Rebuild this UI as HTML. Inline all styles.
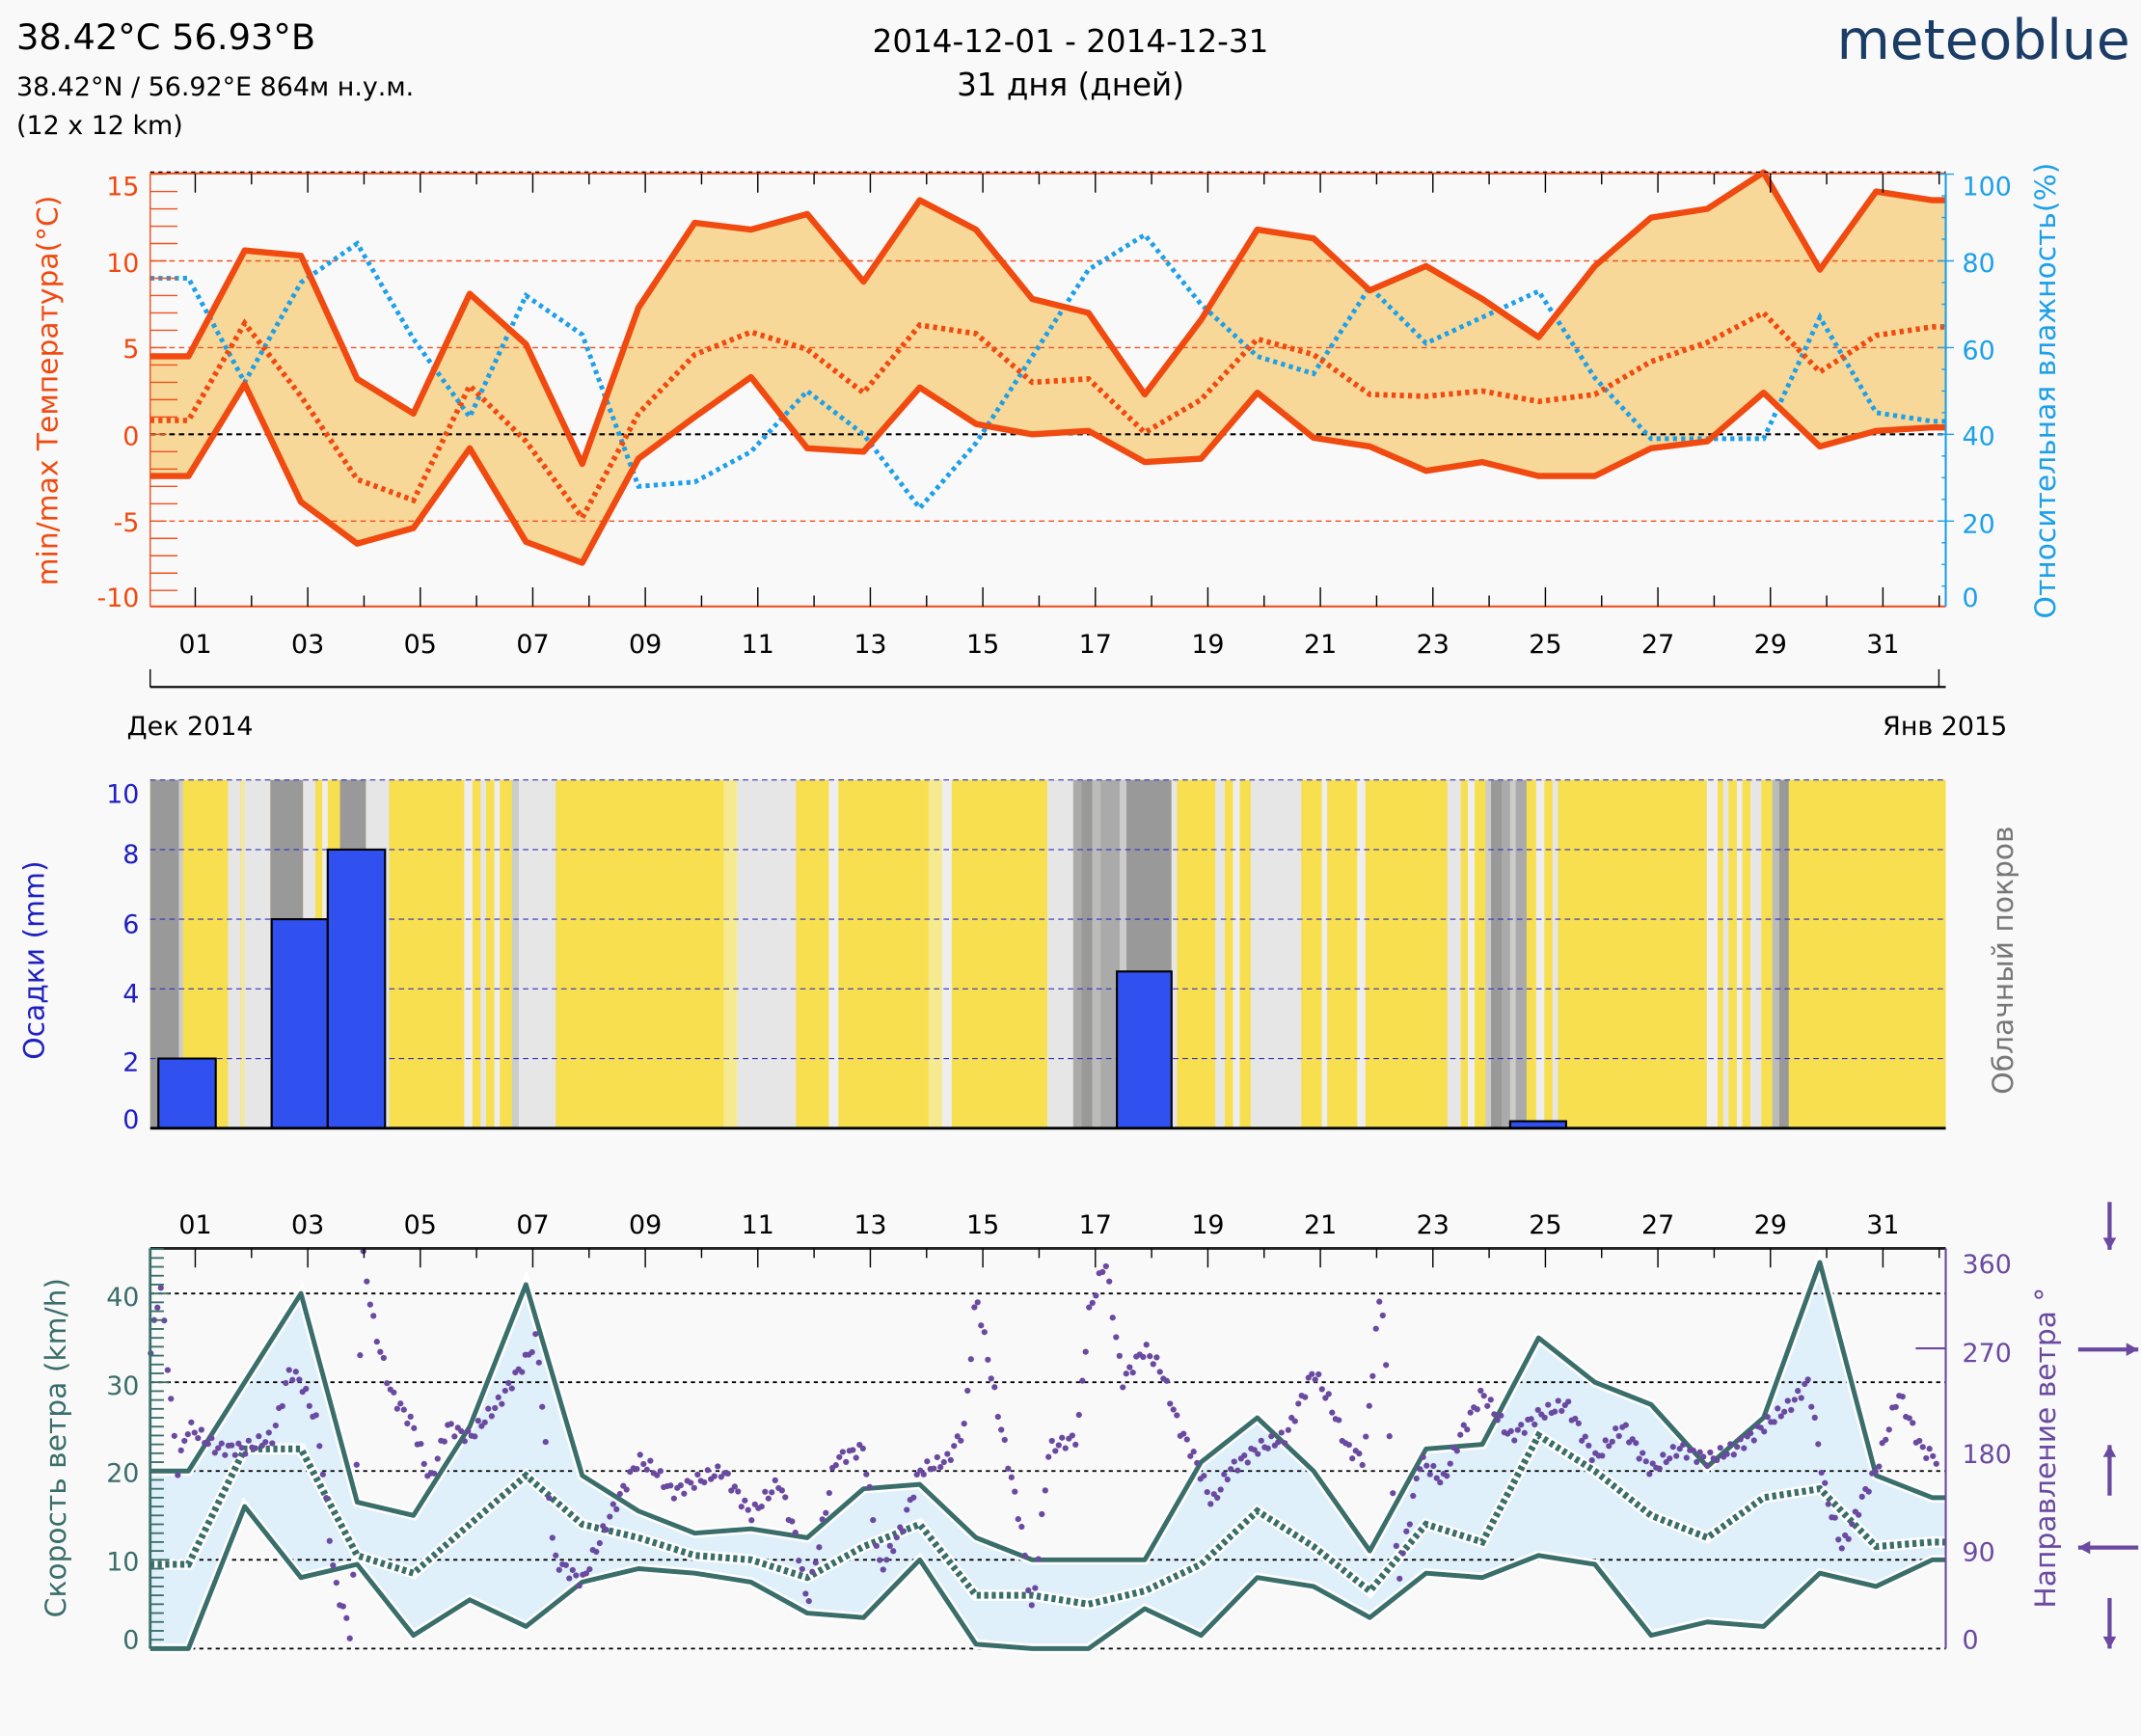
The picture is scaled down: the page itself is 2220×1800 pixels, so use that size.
<!DOCTYPE html>
<html><head><meta charset="utf-8">
<style>
html,body{margin:0;padding:0;background:#f9f9f9;}
svg{display:block;font-family:"DejaVu Sans","Liberation Sans",sans-serif;}
</style></head><body>
<svg id="s" width="2220" height="1800" viewBox="0 0 1568 1271" preserveAspectRatio="none" xmlns="http://www.w3.org/2000/svg">
<rect width="1568" height="1271" fill="#f9f9f9"/>
<text x="12" y="36" font-size="26" fill="#000">38.42°C 56.93°B</text>
<text x="12" y="70" font-size="19" fill="#000">38.42°N / 56.92°E   864м н.у.м.</text>
<text x="12" y="98" font-size="19" fill="#000">(12 x 12 km)</text>
<text x="784" y="38" font-size="23" text-anchor="middle">2014-12-01 - 2014-12-31</text>
<text x="784" y="70" font-size="23" text-anchor="middle">31 дня (дней)</text>
<text x="1560" y="43" font-size="40" fill="#1a3c66" text-anchor="end">meteoblue</text>
<g id="g"></g>
</svg>
<script>
var NS="http://www.w3.org/2000/svg",g=document.getElementById('g');
function el(t,a,txt){var e=document.createElementNS(NS,t);for(var k in a)e.setAttribute(k,a[k]);if(txt!==undefined)e.textContent=txt;g.appendChild(e);return e;}
function X(d){return 138+(d-1)*41.2;}
var L=110,R=1425;
var tmax=[4.5,10.6,10.3,3.2,1.2,8.1,5.2,-1.7,7.3,12.2,11.8,12.7,8.8,13.5,11.8,7.8,7.0,2.3,6.6,11.8,11.3,8.3,9.7,7.8,5.6,9.7,12.5,13.0,15.1,9.5,14.0,13.5];
var tmin=[-2.4,2.9,-3.9,-6.3,-5.4,-0.8,-6.2,-7.4,-1.4,1.0,3.3,-0.8,-1.0,2.7,0.6,0.0,0.2,-1.6,-1.4,2.4,-0.2,-0.7,-2.1,-1.6,-2.4,-2.4,-0.8,-0.4,2.4,-0.7,0.2,0.4];
var tmean=[0.8,6.4,2.2,-2.6,-3.8,2.8,-0.4,-4.8,1.2,4.6,5.9,4.9,2.4,6.3,5.8,3.0,3.2,0.1,2.0,5.5,4.6,2.3,2.2,2.5,1.9,2.3,4.2,5.3,7.0,3.6,5.7,6.2];
var hum=[76,52,75,84,62,44,72,63,28,29,36,50,40,23,38,58,78,86,70,58,54,74,61,67,73,53,39,39,39,67,45,43];
function TY(t){return 318-12.7*t;} function HY(h){return 445-3.175*h;}
function line(arr,fy){var p=[[L,fy(arr[0])]];for(var i=0;i<arr.length;i++)p.push([Math.min(X(i+1),R),fy(arr[i])]);p.push([R,fy(arr[arr.length-1])]);return p;}
function pstr(p){return p.map(function(q){return q[0].toFixed(1)+','+q[1].toFixed(1)}).join(' ');}
var pa=line(tmax,TY),pb=line(tmin,TY);
el('polygon',{points:pstr(pa.concat(pb.slice().reverse())),fill:'#f8d898'});
[10,5,-5].forEach(function(t){el('line',{x1:L,x2:R,y1:TY(t),y2:TY(t),stroke:'#f05020','stroke-width':1,'stroke-dasharray':'4,3'});});
el('line',{x1:L,x2:R,y1:318,y2:318,stroke:'#000','stroke-width':1.5,'stroke-dasharray':'4,3'});
el('polyline',{points:pstr(line(hum,HY)),fill:'none',stroke:'#1ea0e8','stroke-width':3.5,'stroke-dasharray':'3,3'});
el('polyline',{points:pstr(pa),fill:'none',stroke:'#f04a10','stroke-width':4.5,'stroke-linejoin':'round'});
el('polyline',{points:pstr(pb),fill:'none',stroke:'#f04a10','stroke-width':4.5,'stroke-linejoin':'round'});
el('polyline',{points:pstr(line(tmean,TY)),fill:'none',stroke:'#f04a10','stroke-width':4,'stroke-dasharray':'3,3'});
el('line',{x1:L,x2:R,y1:127,y2:127,stroke:'#f05020','stroke-width':1.5});
el('line',{x1:L,x2:R,y1:126,y2:126,stroke:'#000','stroke-width':1,'stroke-dasharray':'3,3'});
el('line',{x1:L,x2:R,y1:444,y2:444,stroke:'#f05020','stroke-width':1.5});
el('line',{x1:L,x2:L,y1:127,y2:444,stroke:'#f05020','stroke-width':1});
el('line',{x1:R,x2:R,y1:127,y2:444,stroke:'#1ea0e8','stroke-width':1.5});
for(var t=-10;t<=15;t++){var y=TY(t);if(y<127||y>444)continue;el('line',{x1:L,x2:L+(t%5==0?12:20),y1:y,y2:y,stroke:'#f05020','stroke-width':1});}
[[15,143],[10,199],[5,262],[0,326],[-5,389],[-10,444]].forEach(function(a){el('text',{x:102,y:a[1],'font-size':19,fill:'#f04a10','text-anchor':'end'},a[0]);});
[[100,143],[80,199],[60,263],[40,326],[20,390],[0,444]].forEach(function(a){el('text',{x:1437,y:a[1],'font-size':19,fill:'#1ea0e8'},a[0]);});
for(var h=0;h<=100;h+=5){var y=HY(h);if(y<127||y>444)continue;el('line',{x1:R-(h%20==0?6:3),x2:R+(h%20==0?6:0),y1:y,y2:y,stroke:'#1ea0e8','stroke-width':1});}
for(var d=1;d<=32;d++){var x=143+(d-1)*41.2;if(x>R)break;var l=d%2?14:8;el('line',{x1:x,x2:x,y1:127,y2:127+l,stroke:'#000'});el('line',{x1:x,x2:x,y1:444,y2:444-l,stroke:'#000'});if(d%2)el('text',{x:x,y:478,'font-size':19,'text-anchor':'middle'},(d<10?'0':'')+d);}
el('text',{x:0,y:0,'font-size':21,fill:'#f04a10','text-anchor':'middle',transform:'translate(42,286) rotate(-90)'},'min/max Температура(°C)');
el('text',{x:0,y:0,'font-size':21,fill:'#1ea0e8','text-anchor':'middle',transform:'translate(1505,286) rotate(-90)'},'Относительная влажность(%)');
el('line',{x1:L,x2:R,y1:503,y2:503,stroke:'#000','stroke-width':1.5});
el('line',{x1:L,x2:L,y1:490,y2:503,stroke:'#000'});el('line',{x1:1420,x2:1420,y1:490,y2:503,stroke:'#000'});
el('text',{x:93,y:538,'font-size':19},'Дек 2014');
el('text',{x:1470,y:538,'font-size':19,'text-anchor':'end'},'Янв 2015');
var T2=571,B2=826;
el('rect',{x:L,y:T2,width:R-L,height:B2-T2,fill:'#f7df50'});
var st=[[110,131,'#999'],[131,134,'#ccc'],[167,176,'#e6e6e6'],[176,179,'#f2e8a0'],[179,198,'#e6e6e6'],[198,222,'#999'],[222,231,'#e6e6e6'],[236,240,'#eee'],[249,268,'#999'],[268,285,'#e6e6e6'],[340,346,'#eee'],[352,356,'#e6e6e6'],[362,366,'#eee'],[375,380,'#ccc'],[380,407,'#e6e6e6'],[530,540,'#f5ea90'],[540,583,'#e6e6e6'],[607,614,'#eee'],[680,690,'#f5ea90'],[690,697,'#eee'],[767,786,'#e6e6e6'],[786,792,'#aaa'],[792,800,'#999'],[800,806,'#bbb'],[806,820,'#aaa'],[820,825,'#ccc'],[825,858,'#999'],[858,862,'#e6e6e6'],[890,897,'#e6e6e6'],[903,908,'#eee'],[916,953,'#e6e6e6'],[968,972,'#eee'],[994,1000,'#eee'],[1060,1070,'#e6e6e6'],[1075,1080,'#eee'],[1088,1092,'#ccc'],[1092,1100,'#999'],[1100,1106,'#aaa'],[1106,1110,'#ccc'],[1110,1118,'#aaa'],[1125,1131,'#eee'],[1137,1141,'#e6e6e6'],[1250,1258,'#eee'],[1262,1266,'#e6e6e6'],[1272,1276,'#eee'],[1282,1290,'#e6e6e6'],[1298,1303,'#bbb'],[1303,1310,'#999']];
st.forEach(function(s){el('rect',{x:s[0],y:T2,width:s[1]-s[0],height:B2-T2,fill:s[2]});});
function PY(p){return 826-25.5*p;}
[8,6,4,2].forEach(function(p){el('line',{x1:L,x2:R,y1:PY(p),y2:PY(p),stroke:'#3030c0','stroke-width':0.8,'stroke-dasharray':'4,3'});});
el('line',{x1:L,x2:R,y1:T2,y2:T2,stroke:'#3030c0','stroke-width':0.8,'stroke-dasharray':'4,3'});
var bars=[[116,158,2],[199,240,6],[240,282,8],[818,858,4.5],[1106,1147,0.2]];
bars.forEach(function(b){el('rect',{x:b[0],y:PY(b[2]),width:b[1]-b[0],height:25.5*b[2],fill:'#3050f0',stroke:'#000','stroke-width':1.5});});
el('line',{x1:L,x2:R,y1:B2,y2:B2,stroke:'#000','stroke-width':2});
[[10,588],[8,632],[6,683],[4,734],[2,784],[0,826]].forEach(function(a){el('text',{x:102,y:a[1],'font-size':19,fill:'#2020c0','text-anchor':'end'},a[0]);});
el('text',{x:0,y:0,'font-size':21,fill:'#2020c0','text-anchor':'middle',transform:'translate(32,703) rotate(-90)'},'Осадки (mm)');
el('text',{x:0,y:0,'font-size':21,fill:'#777','text-anchor':'middle',transform:'translate(1474,703) rotate(-90)'},'Облачный покров');
var wmax=[20,30,40,16.5,15,25,41,19.5,15.5,13,13.5,12.5,18,18.5,12.5,10,10,10,21,26,20,11,22.5,23,35,30,27.5,20.5,26,43.5,19.5,17];
var wmin=[0,16,8,9.5,1.5,5.5,2.5,7.5,9,8.5,7.5,4,3.5,10,0.5,0,0,4.5,1.5,8,7,3.5,8.5,8,10.5,9.5,1.5,3,2.5,8.5,7,10];
var wmean=[9.5,22.5,22.5,10.5,8.5,14,19.5,14,12.5,10.5,10,8,11.5,14,6,6,5,6.5,9.5,15.5,11.5,6.5,14,12,24,20,15,12.5,17,18,11.5,12];
function WY(w){return 1207-6.5*w;} function DY(d){return 1207-0.814*d;}
var qa=line(wmax,WY),qb=line(wmin,WY);
el('polygon',{points:pstr(qa.concat(qb.slice().reverse())),fill:'#e0f0fa'});
[10,20,30,40].forEach(function(w){el('line',{x1:L,x2:R,y1:WY(w),y2:WY(w),stroke:'#000','stroke-width':1.3,'stroke-dasharray':'3,3'});});
el('line',{x1:L,x2:R,y1:1207,y2:1207,stroke:'#000','stroke-width':1.3,'stroke-dasharray':'3,3'});
[qa,qb].forEach(function(q){el('polyline',{points:pstr(q),fill:'none',stroke:'#fff','stroke-width':7});});
el('polyline',{points:pstr(line(wmean,WY)),fill:'none',stroke:'#fff','stroke-width':8});
el('polyline',{points:pstr(line(wmean,WY)),fill:'none',stroke:'#3a6e6a','stroke-width':5,'stroke-dasharray':'3,2.5'});
[qa,qb].forEach(function(q){el('polyline',{points:pstr(q),fill:'none',stroke:'#3a6e6a','stroke-width':3.5,'stroke-linejoin':'round'});});
var kp=[[0.2,220],[0.5,330],[0.8,160],[1,200],[1.5,180],[2,180],[2.5,190],[2.8,250],[3,240],[3.3,200],[3.6,60],[3.9,10],[4.1,355],[4.3,290],[4.6,230],[5,200],[5.3,150],[5.6,200],[6,190],[6.5,220],[7,260],[7.2,280],[7.5,80],[8,60],[8.5,120],[9,170],[9.3,160],[9.6,140],[10,150],[10.5,160],[11,120],[11.5,150],[11.8,100],[12,40],[12.5,170],[13,180],[13.3,70],[13.7,110],[14,160],[14.5,170],[14.8,200],[15,320],[15.4,210],[15.8,110],[16,30],[16.3,180],[16.8,190],[17,300],[17.3,350],[17.6,240],[18,270],[18.3,250],[18.6,200],[18.9,170],[19.2,130],[19.5,160],[20,180],[20.5,190],[21,250],[21.3,220],[21.6,180],[21.9,170],[22.2,330],[22.5,60],[22.9,170],[23.3,150],[23.6,190],[24,230],[24.5,190],[25,210],[25.5,220],[26,170],[26.5,200],[27,160],[27.5,180],[28,170],[28.5,180],[29,200],[29.5,220],[29.8,240],[30.1,140],[30.4,90],[30.8,140],[31,160],[31.4,230],[31.8,180],[32.1,170]];
for(var t=0.15;t<32.1;t+=0.06){var i=0;while(i<kp.length-2&&kp[i+1][0]<t)i++;var a=kp[i],b=kp[i+1],f=(t-a[0])/(b[0]-a[0]);f=Math.max(0,Math.min(1,f));var v=a[1]+(b[1]-a[1])*f+Math.sin(t*37)*6;var x=138+(t-1)*41.2;if(x<L||x>R)continue;el('circle',{cx:x.toFixed(1),cy:DY(Math.max(0,Math.min(360,v))).toFixed(1),r:2.2,fill:'#6a4aa0'});}
el('line',{x1:L,x2:R,y1:914,y2:914,stroke:'#222','stroke-width':2});
el('line',{x1:L,x2:L,y1:914,y2:1207,stroke:'#3a6e6a','stroke-width':2});
el('line',{x1:R,x2:R,y1:914,y2:1207,stroke:'#6a4aa0','stroke-width':1.5});
for(var w=0;w<=45;w++){var y=WY(w);el('line',{x1:L,x2:L+(w%10==0?14:10),y1:y,y2:y,stroke:'#3a6e6a','stroke-width':1.3});}
[[0,1207],[10,1150],[20,1085],[30,1021],[40,956]].forEach(function(a){el('text',{x:102,y:a[1],'font-size':19,fill:'#3a6e6a','text-anchor':'end'},a[0]);});
[[360,932],[270,997],[180,1071],[90,1143],[0,1207]].forEach(function(a){el('text',{x:1437,y:a[1],'font-size':19,fill:'#6a4aa0'},a[0]);});
el('line',{x1:1403,x2:1425,y1:DY(270),y2:DY(270),stroke:'#6a4aa0','stroke-width':1.5});
for(var d=1;d<=32;d++){var x=143+(d-1)*41.2;if(x>R)break;var l=d%2?14:7;el('line',{x1:x,x2:x,y1:914,y2:914+l,stroke:'#000'});if(d%2)el('text',{x:x,y:903,'font-size':19,'text-anchor':'middle'},(d<10?'0':'')+d);}
el('text',{x:0,y:0,'font-size':21,fill:'#3a6e6a','text-anchor':'middle',transform:'translate(48,1060) rotate(-90)'},'Скорость ветра (km/h)');
el('text',{x:0,y:0,'font-size':21,fill:'#6a4aa0','text-anchor':'middle',transform:'translate(1505,1060) rotate(-90)'},'Направление ветра °');
var ac='#6a4aa0';
function arr(x1,y1,x2,y2){el('line',{x1:x1,y1:y1,x2:x2,y2:y2,stroke:ac,'stroke-width':3});var ang=Math.atan2(y2-y1,x2-x1),s=10;el('polygon',{points:x2+','+y2+' '+(x2-s*Math.cos(ang-0.5))+','+(y2-s*Math.sin(ang-0.5))+' '+(x2-s*Math.cos(ang+0.5))+','+(y2-s*Math.sin(ang+0.5)),fill:ac});}
arr(1545,880,1545,915);arr(1522,988,1566,988);arr(1545,1095,1545,1058);arr(1566,1133,1522,1133);arr(1545,1170,1545,1207);
</script>
</body></html>
